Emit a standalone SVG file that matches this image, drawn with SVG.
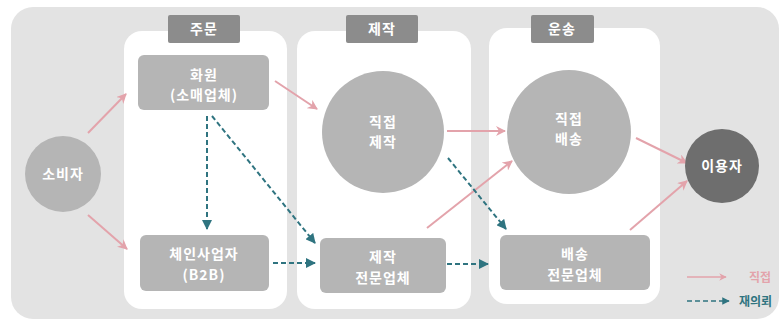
<svg xmlns="http://www.w3.org/2000/svg" width="784" height="324" viewBox="0 0 784 324">
<defs>
<style>
.bg{fill:#e3e3e3}
.panel{fill:#ffffff}
.tab{fill:#8c8c8c}
.node{fill:#b5b5b5}
.dark{fill:#6e6e6e}
.t{font-family:"Noto Sans CJK KR","Noto Sans",sans-serif;font-weight:700;font-size:14px;letter-spacing:1px;fill:#ffffff;text-anchor:middle}
.pink{stroke:#e3a3ab;stroke-width:2;fill:none;marker-end:url(#mp)}
.teal{stroke:#2f7480;stroke-width:2;fill:none;stroke-dasharray:5 3;marker-end:url(#mt)}
.lg{font-family:"Noto Sans CJK KR","Noto Sans",sans-serif;font-weight:700;font-size:12px;text-anchor:end}
</style>
<marker id="mp" viewBox="0 0 10 10" refX="9" refY="5" markerWidth="5" markerHeight="5" orient="auto" markerUnits="strokeWidth">
<path d="M0,0 L10,5 L0,10 L3,5 Z" fill="#e3a3ab"/>
</marker>
<marker id="mt" viewBox="0 0 10 10" refX="9" refY="5" markerWidth="5" markerHeight="5" orient="auto" markerUnits="strokeWidth">
<path d="M0,0 L10,5 L0,10 Z" fill="#2f7480"/>
</marker>
</defs>
<rect class="bg" x="11" y="7" width="768" height="312" rx="22"/>
<g id="panel-order">
<rect class="panel" x="124" y="31" width="163" height="278" rx="18"/>
<rect class="tab" x="168" y="15" width="72" height="28" rx="2"/>
<text class="t" x="204" y="34">주문</text>
</g>
<g id="panel-make">
<rect class="panel" x="297" y="31" width="174" height="278" rx="18"/>
<rect class="tab" x="346" y="15" width="72" height="28" rx="2"/>
<text class="t" x="382" y="34">제작</text>
</g>
<g id="panel-ship">
<rect class="panel" x="489" y="28" width="171" height="276" rx="18"/>
<rect class="tab" x="531" y="15" width="63" height="28" rx="2"/>
<text class="t" x="562" y="34">운송</text>
</g>
<g id="connectors">
<line class="pink" x1="88" y1="133" x2="126" y2="94"/>
<line class="pink" x1="88" y1="215" x2="127" y2="249"/>
<line class="pink" x1="275" y1="81" x2="317" y2="109"/>
<line class="pink" x1="447" y1="131" x2="505" y2="131"/>
<line class="pink" x1="427" y1="228" x2="512" y2="161"/>
<line class="pink" x1="636" y1="138" x2="687" y2="163"/>
<line class="pink" x1="630" y1="230" x2="687" y2="181"/>
<line class="teal" x1="207" y1="116" x2="207" y2="229"/>
<line class="teal" x1="212" y1="116" x2="315" y2="243"/>
<line class="teal" x1="273" y1="263" x2="315" y2="263"/>
<line class="teal" x1="448" y1="158" x2="506" y2="229"/>
<line class="teal" x1="447" y1="264" x2="488" y2="264"/>
</g>
<g id="consumer">
<circle class="node" cx="63" cy="174" r="38"/>
<text class="t" x="63" y="179">소비자</text>
</g>
<g id="florist">
<rect class="node" x="138" y="55" width="131" height="55" rx="6"/>
<text class="t" x="204" y="80">화원</text>
<text class="t" x="204" y="100">(소매업체)</text>
</g>
<g id="chain">
<rect class="node" x="140" y="235" width="129" height="56" rx="6"/>
<text class="t" x="204" y="259">체인사업자</text>
<text class="t" x="204" y="280">(B2B)</text>
</g>
<g id="direct-make">
<circle class="node" cx="383" cy="132" r="61"/>
<text class="t" x="383" y="127">직접</text>
<text class="t" x="383" y="147">제작</text>
</g>
<g id="make-pro">
<rect class="node" x="320" y="238" width="126" height="55" rx="6"/>
<text class="t" x="383" y="262">제작</text>
<text class="t" x="383" y="283">전문업체</text>
</g>
<g id="direct-ship">
<circle class="node" cx="569" cy="132" r="62"/>
<text class="t" x="569" y="124">직접</text>
<text class="t" x="569" y="144">배송</text>
</g>
<g id="ship-pro">
<rect class="node" x="500" y="235" width="150" height="55" rx="6"/>
<text class="t" x="575" y="259">배송</text>
<text class="t" x="575" y="280">전문업체</text>
</g>
<g id="user">
<circle class="dark" cx="722" cy="166" r="37"/>
<text class="t" x="722" y="171">이용자</text>
</g>
<g id="legend">
<line class="pink" x1="687" y1="277" x2="726" y2="277" style="stroke-width:1.5"/>
<text class="lg" x="771" y="282" fill="#e3a3ab">직접</text>
<line class="teal" x1="687" y1="301" x2="729" y2="301" style="stroke-width:1.5"/>
<text class="lg" x="772" y="306" fill="#2f7480">재의뢰</text>
</g>
</svg>
